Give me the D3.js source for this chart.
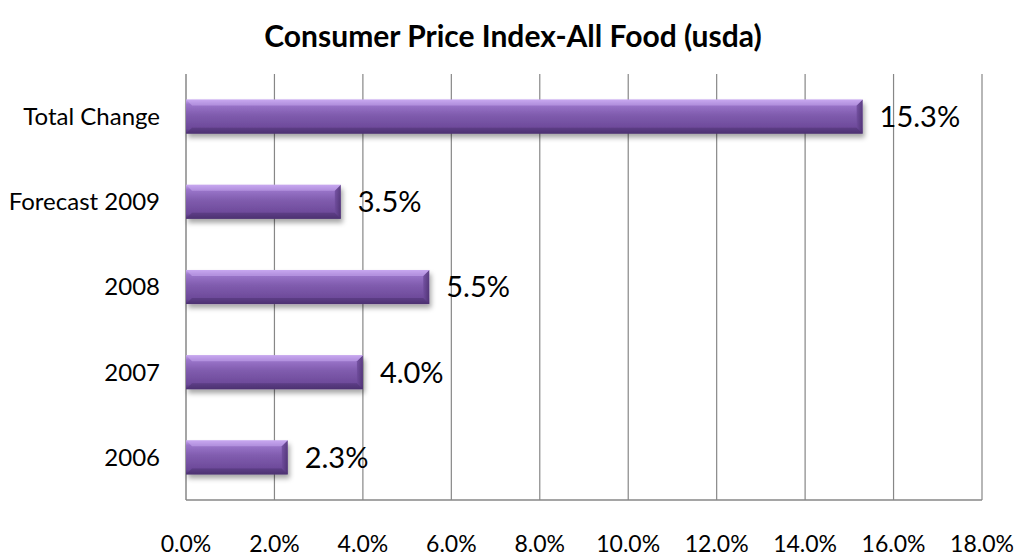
<!DOCTYPE html>
<html>
<head>
<meta charset="utf-8">
<script src="https://cdn.jsdelivr.net/npm/d3@7"></script>
<style>
  body { margin: 0; background: #fff; }
  svg { display: block; font-family: Lato, "Open Sans", sans-serif; }
</style>
</head>
<body>
<div id="chart"></div>
<script>
// data
var categories = ["Total Change", "Forecast 2009", "2008", "2007", "2006"];
var values = [15.3, 3.5, 5.5, 4.0, 2.3];
var ticks = [0, 2, 4, 6, 8, 10, 12, 14, 16, 18];
var title = "Consumer Price Index-All Food (usda)";

var W = 1021, H = 559;
var plotLeft = 186, plotRight = 982, plotTop = 74, plotBottom = 500;

var svg = d3.select("#chart").append("svg")
    .attr("width", W)
    .attr("height", H);

var defs = svg.append("defs");

var grad = defs.append("linearGradient")
    .attr("id", "barGrad")
    .attr("x1", 0).attr("y1", 0).attr("x2", 0).attr("y2", 1);
grad.append("stop").attr("offset", "0%").attr("stop-color", "#c7a6ef");
grad.append("stop").attr("offset", "14%").attr("stop-color", "#9b76cb");
grad.append("stop").attr("offset", "45%").attr("stop-color", "#805cae");
grad.append("stop").attr("offset", "85%").attr("stop-color", "#6c4999");
grad.append("stop").attr("offset", "100%").attr("stop-color", "#4e3274");

var endGrad = defs.append("linearGradient")
    .attr("id", "endGrad")
    .attr("x1", 0).attr("y1", 0).attr("x2", 1).attr("y2", 0);
endGrad.append("stop").attr("offset", "0%").attr("stop-color", "#6e4b9b");
endGrad.append("stop").attr("offset", "100%").attr("stop-color", "#4a2f6e");

var shadow = defs.append("filter")
    .attr("id", "shadow")
    .attr("x", "-10%").attr("y", "-30%")
    .attr("width", "130%").attr("height", "190%");
shadow.append("feDropShadow")
    .attr("dx", 2).attr("dy", 4)
    .attr("stdDeviation", 2.5)
    .attr("flood-color", "#000")
    .attr("flood-opacity", 0.35);

var x = d3.scaleLinear().domain([0, 18]).range([plotLeft, plotRight]);
var y = d3.scaleBand().domain(categories).range([plotTop, plotBottom]).paddingInner(0.6).paddingOuter(0.3);

// title
svg.append("text")
    .attr("x", 513)
    .attr("y", 47)
    .attr("text-anchor", "middle")
    .style("font-weight", "bold")
    .style("font-size", "30px")
    .text(title);

// gridlines
svg.selectAll("line.grid")
    .data(ticks.slice(1))
    .enter()
    .append("line")
    .attr("class", "grid")
    .attr("x1", d => x(d)).attr("x2", d => x(d))
    .attr("y1", plotTop).attr("y2", plotBottom)
    .attr("stroke", "#878787")
    .attr("stroke-width", 1.2);

// axes lines
svg.append("line")
    .attr("x1", plotLeft).attr("x2", plotLeft)
    .attr("y1", plotTop).attr("y2", plotBottom)
    .attr("stroke", "#878787").attr("stroke-width", 1.5);
svg.append("line")
    .attr("x1", plotLeft).attr("x2", plotRight)
    .attr("y1", plotBottom).attr("y2", plotBottom)
    .attr("stroke", "#878787").attr("stroke-width", 1.5);

// tick labels
svg.selectAll("text.tick")
    .data(ticks)
    .enter()
    .append("text")
    .attr("class", "tick")
    .attr("x", d => x(d))
    .attr("y", 552)
    .attr("text-anchor", "middle")
    .style("font-size", "23px")
    .text(d => d.toFixed(1) + "%");

// category labels
svg.selectAll("text.cat")
    .data(categories)
    .enter()
    .append("text")
    .attr("class", "cat")
    .attr("x", 160)
    .attr("y", d => y(d) + y.bandwidth() / 2)
    .attr("dy", "0.35em")
    .attr("text-anchor", "end")
    .style("font-size", "24px")
    .text(d => d);

// bars
var bars = svg.selectAll("g.bar")
    .data(categories.map((c, i) => ({cat: c, val: values[i]})))
    .enter()
    .append("g")
    .attr("class", "bar");

bars.append("rect")
    .attr("x", plotLeft)
    .attr("y", d => y(d.cat))
    .attr("width", d => x(d.val) - plotLeft)
    .attr("height", y.bandwidth())
    .attr("fill", "url(#barGrad)")
    .attr("filter", "url(#shadow)");

// bevel on the right end
var bev = 6;
bars.append("path")
    .attr("d", function (d) {
        var x1 = x(d.val), y0 = y(d.cat), h = y.bandwidth();
        return "M" + (x1 - bev) + "," + (y0 + bev) +
            " L" + x1 + "," + y0 +
            " L" + x1 + "," + (y0 + h) +
            " L" + (x1 - bev) + "," + (y0 + h - bev) + " Z";
    })
    .attr("fill", "url(#endGrad)")
    .attr("opacity", 0.8);

// bevel top highlight and bottom shade
bars.append("path")
    .attr("d", function (d) {
        var x1 = x(d.val), y0 = y(d.cat);
        return "M" + plotLeft + "," + y0 + " L" + x1 + "," + y0 +
            " L" + (x1 - bev) + "," + (y0 + bev) + " L" + (plotLeft + bev) + "," + (y0 + bev) + " Z";
    })
    .attr("fill", "#c9aaf0")
    .attr("opacity", 0.55);

bars.append("path")
    .attr("d", function (d) {
        var x1 = x(d.val), y1 = y(d.cat) + y.bandwidth();
        return "M" + plotLeft + "," + y1 + " L" + x1 + "," + y1 +
            " L" + (x1 - bev) + "," + (y1 - bev) + " L" + (plotLeft + bev) + "," + (y1 - bev) + " Z";
    })
    .attr("fill", "#4a2f6e")
    .attr("opacity", 0.5);

// value labels
bars.append("text")
    .attr("x", d => x(d.val) + 17)
    .attr("y", d => y(d.cat) + y.bandwidth() / 2)
    .attr("dy", "0.36em")
    .style("font-size", "29px")
    .text(d => d.val.toFixed(1) + "%");
</script>
</body>
</html>
